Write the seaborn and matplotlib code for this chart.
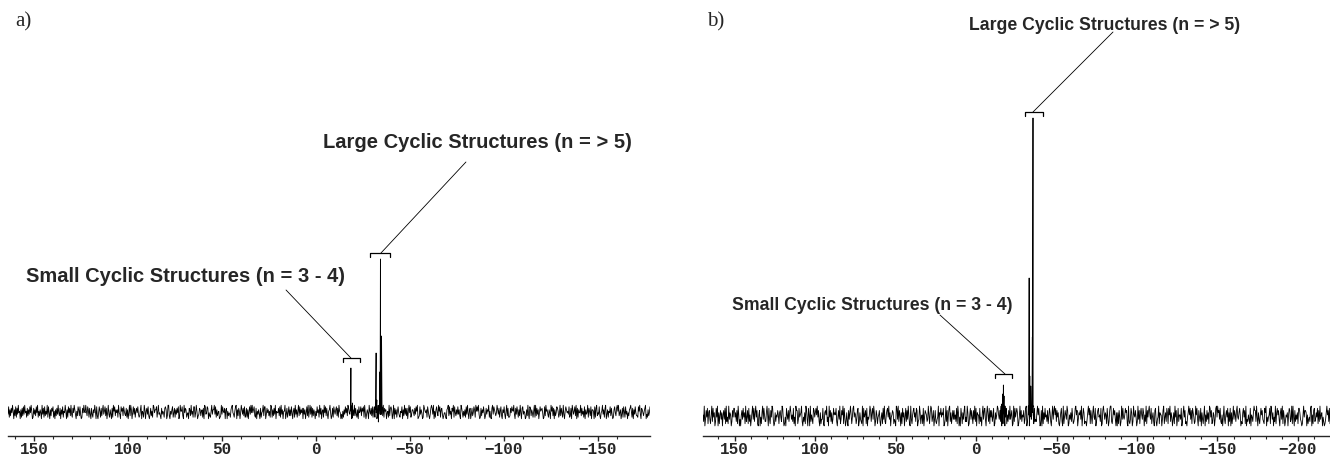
import numpy as np
import pandas as pd
import matplotlib
matplotlib.use('Agg')
import matplotlib.pyplot as plt
import seaborn as sns

ruido_a = (
    "38162749506281739450617283945172638495017362849152"
    "64093718253918406275815062739427063815495061847293"
    "17496305286283017495495286173073164950820485172693"
    "58270493163071958264619430857285327160492960483715"
    "74831269054196057382037251984668159342073541786029"
    "92053681471637480295582094761340762935188149502376"
    "25617098348704215936693816245012938547067052431689"
    "43158906275049637281271605839494682170536307145928"
    "80374625198162739054472819360559037148262840571936"
    "15928364707360482915938172640528461937056194827305"
    "69402718536827195403051638472974385016292731608458"
    "27581940364095372816816402957333829175604519278603"
    "90736158421548062937270594813664273859012836401975"
    "46185203797390516842958167302441067928350759184263"
    "83620974152618394057037248619585930172648402736591"
    "51079386424963715820648305927112748659307385162940"
    "78354016293087264159192736048567401829563164095827"
    "06248751392741930586453812709635829071644927351806"
    "34917528066508179243820459361790361548273016842795"
    "92460371851835042679517063842218593076425790316248"
)
ruido_b = (
    "52903748167315928460284906157360573819241936502748"
    "84627195030573846192471825036938269471057041693852"
    "26950831749830162547516742983014085372696352814097"
    "71384569204261973085092531874685947206133810675924"
    "09472613856582047391375918402620736951489465137802"
    "63219084571804359726839602751457204618392157849360"
    "45761320983927506184604827395109315784628702396145"
    "18047652395169824703721349065846580139270589261473"
    "73528196040851637924296015837417392806551824069378"
    "30695281747248016359853729041660481527393570192846"
    "86014937254713890265047356918232695840170916384527"
    "14862059379582746103682091475397015362841248957036"
    "57390486122036958174169438025784528017963651840279"
    "92148573060617402938435867109213860295474029371685"
    "38605291747953814620782034916550379146286185926403"
    "61947038255380269471204695837186412958307428063159"
    "05273619847126503894967382150493157480628061493752"
    "79436850216847190325318054269772940631585732186904"
    "24581973604291685730683917402546058723919407253618"
    "86320159477605134289051782364817293560420136957281"
)

# faixa do eixo (ppm)
lim_a = [163.8, -177.7]
lim_b = [169.6, -219.9]

# picos (ppm, intensidade)
picos_a_ppm = [-18.3, -18.6, -18.9, -19.4, -31.5, -32.0, -32.4, -33.2, -33.9, -34.3, -34.6, -34.9, -35.3]
picos_a_int = [3, 44, 6, 9, 4, 59, 12, -10, 40, 153, 20, 76, 5]
picos_b_ppm = [-15.4, -16.0, -16.6, -17.0, -17.4, -18.0, -18.8, -32.5, -33.0, -33.4, -34.0, -35.0, -35.4, -35.8]
picos_b_int = [6, 12, 22, 31, 20, 10, 6, 10, 138, 40, 30, 79, 298, 10]

# colchetes (ppm inicio, ppm fim, altura)
colchete_a_peq = [-14.4, -23.4, 54]
colchete_a_gde = [-28.7, -39.4, 159]
colchete_b_peq = [-11.8, -22.3, 42]
colchete_b_gde = [-30.4, -41.6, 304]

ticks_a = [150, 100, 50, 0, -50, -100, -150]
ticks_b = [150, 100, 50, 0, -50, -100, -150, -200]

txt_grande = 'Large Cyclic Structures (n = > 5)'
txt_pequeno = 'Small Cyclic Structures (n = 3 - 4)'


def espectro(ruido, lim, escala, p_ppm, p_int):
    x = np.linspace(lim[0], lim[1], len(ruido))
    y = (np.array([int(c) for c in ruido]) - 4.5) * escala
    x = np.concatenate([x, p_ppm])
    y = np.concatenate([y, p_int])
    ordem = np.argsort(-x)
    return pd.DataFrame({'ppm': x[ordem], 'int': y[ordem]})


def colchete(ax, c, dz):
    ax.plot([c[0], c[0], c[1], c[1]], [c[2] - dz, c[2], c[2], c[2] - dz], color='black', lw=0.9)


sns.set_style('ticks')
fig = plt.figure(figsize=(13.3, 4.58), dpi=100)

W, H = 1330, 458
ax_a = fig.add_axes([8 / W, 22 / H, 642 / W, 436 / H])
ax_b = fig.add_axes([703 / W, 22 / H, 627 / W, 436 / H])

Dados_a = espectro(ruido_a, lim_a, 1.5, picos_a_ppm, picos_a_int)
Dados_b = espectro(ruido_b, lim_b, 2.2, picos_b_ppm, picos_b_int)

sns.lineplot(data=Dados_a, x='ppm', y='int', sort=False, estimator=None, color='black', lw=0.6, ax=ax_a)
sns.lineplot(data=Dados_b, x='ppm', y='int', sort=False, estimator=None, color='black', lw=0.6, ax=ax_b)

ax_a.set_xlim(lim_a)
ax_a.set_ylim(-24, 412)
ax_b.set_xlim(lim_b)
ax_b.set_ylim(-20, 416)

colchete(ax_a, colchete_a_peq, 4)
colchete(ax_a, colchete_a_gde, 4)
colchete(ax_b, colchete_b_peq, 4)
colchete(ax_b, colchete_b_gde, 4)

seta = dict(arrowstyle='-', color='black', lw=0.6, shrinkA=0, shrinkB=0)
fonte = 'Liberation Sans'

# textos e linhas de chamada
ax_a.annotate('', xy=(-34.6, 159), xytext=(-79.8, 250), arrowprops=seta)
ax_a.text(-85.7, 270, txt_grande, ha='center', va='center', fontsize=14.5, fontweight='bold', family=fonte)
ax_a.annotate('', xy=(-18.6, 54), xytext=(15.9, 122), arrowprops=seta)
ax_a.text(69.4, 135, txt_pequeno, ha='center', va='center', fontsize=14.5, fontweight='bold', family=fonte)

ax_b.annotate('', xy=(-35.4, 304), xytext=(-85.1, 384), arrowprops=seta)
ax_b.text(-80.1, 391, txt_grande, ha='center', va='center', fontsize=12.7, fontweight='bold', family=fonte)
ax_b.annotate('', xy=(-18.0, 42), xytext=(22.4, 101), arrowprops=seta)
ax_b.text(64.6, 111, txt_pequeno, ha='center', va='center', fontsize=12.7, fontweight='bold', family=fonte)

for ax, tk in [(ax_a, ticks_a), (ax_b, ticks_b)]:
    sns.despine(ax=ax, left=True)
    ax.set_yticks([])
    ax.set_xlabel('')
    ax.set_ylabel('')
    ax.set_xticks(tk)
    ax.set_xticks(np.arange(tk[0] + 10, tk[-1] - 20, -10), minor=True)
    ax.tick_params(axis='x', which='major', length=3.5, width=1, pad=1, labelsize=11.5)
    ax.tick_params(axis='x', which='minor', length=2.5, width=0.8)
    ax.spines['bottom'].set_linewidth(1)
    for lbl in ax.get_xticklabels():
        lbl.set_fontfamily('Liberation Mono')
        lbl.set_fontweight('bold')
    ax.patch.set_alpha(0)

fig.text(15 / W, 1 - 22 / H, 'a)', fontsize=15, family='Liberation Serif', va='center')
fig.text(707 / W, 1 - 22 / H, 'b)', fontsize=15, family='Liberation Serif', va='center')

fig.savefig('out.png', dpi=100)
